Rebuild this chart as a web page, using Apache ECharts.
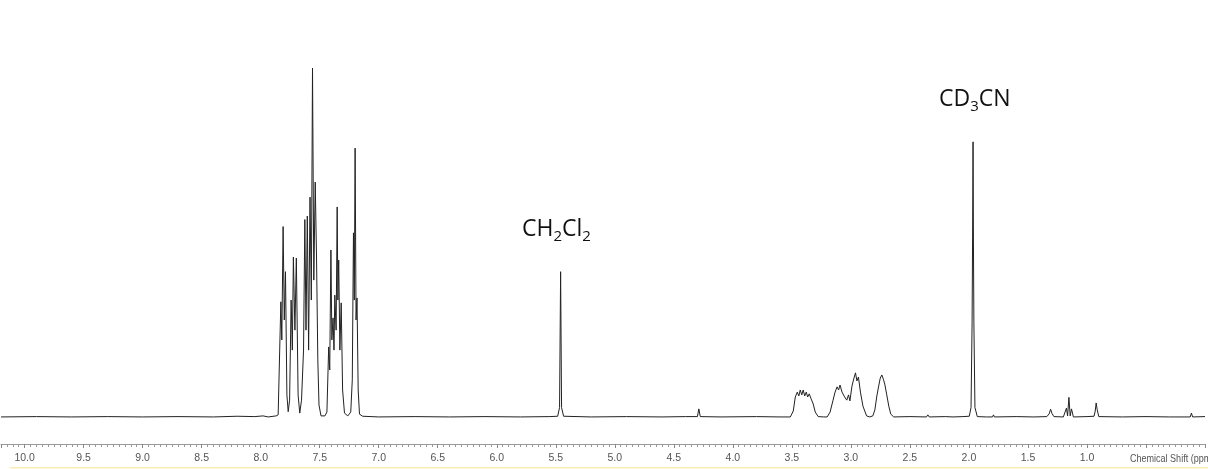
<!DOCTYPE html>
<html>
<head>
<meta charset="utf-8">
<script src="https://cdn.jsdelivr.net/npm/echarts@6/dist/echarts.min.js"></script>
<style>
html,body{margin:0;padding:0;background:#fff;}
#chart{width:1208px;height:469px;}
</style>
</head>
<body>
<div id="chart"></div>
<script>
// Chemical shift (ppm) of each traced vertex of the spectrum
const shiftPpm = [
  10.20, 9.90, 9.60, 9.30, 9.00, 8.70, 8.40, 8.20, 8.05, 7.98, 7.936,
  7.869, 7.852, 7.839, 7.829, 7.821, 7.810, 7.800, 7.790, 7.778, 7.767,
  7.755, 7.742, 7.732, 7.723, 7.710, 7.698, 7.683, 7.669,
  7.654, 7.637, 7.626, 7.616, 7.605, 7.594, 7.582, 7.571, 7.561, 7.550, 7.538, 7.527, 7.516, 7.506,
  7.489, 7.456, 7.439,
  7.424, 7.415, 7.405, 7.397, 7.387, 7.379, 7.372, 7.361, 7.352, 7.346, 7.339, 7.329, 7.318, 7.306, 7.290,
  7.262, 7.237, 7.224, 7.214, 7.207, 7.200, 7.192, 7.184, 7.174, 7.163, 7.136,
  7.00, 6.70, 6.40, 6.10, 5.80, 5.55,
  5.484, 5.468, 5.459, 5.451, 5.434,
  5.20, 4.90, 4.60, 4.40, 4.30, 4.288, 4.276, 4.10, 3.80, 3.60,
  3.513, 3.488, 3.471, 3.454, 3.441, 3.429, 3.416, 3.404, 3.391, 3.378, 3.366, 3.353, 3.336, 3.319, 3.302, 3.277,
  3.23, 3.201, 3.176, 3.151, 3.134, 3.117, 3.104, 3.092, 3.075, 3.058, 3.035, 3.020, 3.008,
  2.991, 2.974, 2.961, 2.949, 2.936, 2.919, 2.898, 2.867, 2.839,
  2.814, 2.797, 2.780, 2.763, 2.751, 2.738, 2.725, 2.713, 2.696, 2.679, 2.662, 2.637,
  2.50, 2.36, 2.348, 2.336, 2.20, 2.135, 2.129, 2.123, 2.05,
  1.997, 1.982, 1.973, 1.969, 1.965, 1.962, 1.958, 1.949, 1.929,
  1.85, 1.80, 1.792, 1.784, 1.60, 1.45,
  1.34, 1.32, 1.308, 1.295, 1.28, 1.20,
  1.19, 1.174, 1.164, 1.153, 1.142, 1.131, 1.115,
  1.00, 0.94, 0.93, 0.922, 0.914, 0.90,
  0.70, 0.50, 0.30, 0.125, 0.115, 0.105, 0.00
];
// Intensity (tallest peak = 100) at each vertex above
const intensity = [
  0.3, 0.4, 0.3, 0.4, 0.3, 0.4, 0.3, 0.5, 0.4, 0.6, 0.3,
  0.6, 0.9, 19.4, 33.2, 22.3, 54.7, 28.0, 41.8, 6.6, 1.8,
  5.1, 33.7, 19.4, 46.0, 25.1, 45.7, 6.6, 1.4,
  5.1, 19.4, 56.7, 25.1, 57.7, 19.4, 63.1, 33.7, 100, 39.4, 67.4, 46.0, 16.6, 3.7,
  0.6, 0.6, 1.7,
  20.3, 13.7, 48.0, 22.3, 28.6, 19.4, 35.1, 25.1, 60.3, 33.7, 45.1, 19.4, 32.9, 8.0, 1.4,
  0.6, 1.7, 10.9, 52.9, 33.7, 77.1, 28.0, 34.3, 8.0, 1.1, 0.5,
  0.3, 0.4, 0.3, 0.4, 0.3, 0.4,
  0.5, 3.0, 41.8, 3.0, 0.5,
  0.3, 0.4, 0.3, 0.4, 0.4, 2.6, 0.4, 0.3, 0.4, 0.3,
  0.3, 2.0, 6.0, 7.4, 6.3, 8.0, 6.6, 8.0, 6.3, 7.4, 6.0, 6.9, 5.4, 4.0, 1.7, 0.4,
  0.3, 0.3, 1.7, 5.1, 7.4, 8.9, 8.0, 9.4, 7.4, 6.3, 5.1, 6.6, 4.9,
  9.1, 11.4, 12.9, 10.6, 11.7, 7.4, 3.4, 0.6, 0.3,
  0.6, 2.3, 6.3, 9.4, 11.4, 12.3, 11.1, 9.7, 6.6, 3.4, 1.1, 0.3,
  0.4, 0.3, 0.9, 0.3, 0.4, 0.3, 0.7, 0.3, 0.4,
  0.5, 3.0, 27.4, 51.7, 78.9, 51.7, 27.4, 3.0, 0.4,
  0.3, 0.3, 0.9, 0.3, 0.4, 0.3,
  0.4, 1.2, 2.5, 1.2, 0.4, 0.3,
  0.3, 2.8, 0.6, 5.9, 0.6, 2.6, 0.3,
  0.4, 0.5, 2.0, 4.3, 2.5, 0.4,
  0.3, 0.4, 0.3, 0.3, 1.4, 0.3, 0.4
];
const axisTitle = 'Chemical Shift (ppm)';
const solventLabels = [
  {parts: [['a', 'CH'], ['s', '2'], ['a', 'Cl'], ['s', '2']]},
  {parts: [['a', 'CD'], ['s', '3'], ['a', 'CN']]}
];

const data = shiftPpm.map((p, i) => [p, intensity[i]]);
const richText = lbl => lbl.parts.map(p => '{' + p[0] + '|' + p[1] + '}').join('');
const rich = {
  a: {fontFamily: 'Open Sans', fontSize: 23, lineHeight: 26, verticalAlign: 'top', fill: '#111'},
  s: {fontFamily: 'Open Sans', fontSize: 15, lineHeight: 10, verticalAlign: 'bottom', fill: '#111'}
};
const labelFont = "'Liberation Sans Narrow', 'Liberation Sans', Arial, sans-serif";

const chart = echarts.init(document.getElementById('chart'), null, {renderer: 'canvas'});
chart.setOption({
  animation: false,
  backgroundColor: '#fff',
  grid: {left: 1, top: 0, width: 1211, height: 444, containLabel: false},
  xAxis: {
    type: 'value',
    inverse: true,
    min: 0,
    max: 10.2,
    interval: 0.5,
    axisLine: {show: true, onZero: false, lineStyle: {color: '#9a9a9a', width: 1}},
    axisTick: {show: true, length: 4, lineStyle: {color: '#888'}},
    minorTick: {show: true, splitNumber: 10, length: 3, lineStyle: {color: '#999'}},
    splitLine: {show: false},
    minorSplitLine: {show: false},
    axisLabel: {
      margin: 9,
      fontSize: 10.5,
      fontFamily: labelFont,
      color: '#555',
      showMaxLabel: false,
      formatter: v => (v < 0.99 || Math.abs(v * 2 - Math.round(v * 2)) > 1e-6) ? '' : v.toFixed(1)
    }
  },
  yAxis: {
    type: 'value',
    show: false,
    min: -7.43,
    max: 119.43,
    splitLine: {show: false}
  },
  series: [{
    type: 'line',
    data: data,
    showSymbol: false,
    symbol: 'none',
    sampling: null,
    lineStyle: {color: '#222', width: 1},
    z: 3
  }],
  graphic: [
    {type: 'rect', shape: {x: 10, y: 467, width: 1198, height: 1.5}, style: {fill: '#fbeeb4'}, silent: true},
    {type: 'text', x: 1130, y: 453, scaleX: 0.82, style: {text: axisTitle, font: "11px " + labelFont, fill: '#555'}, silent: true},
    {type: 'text', x: 522, y: 218, style: {text: richText(solventLabels[0]), rich: rich, verticalAlign: 'top'}, silent: true},
    {type: 'text', x: 939, y: 88, style: {text: richText(solventLabels[1]), rich: rich, verticalAlign: 'top'}, silent: true}
  ]
});
</script>
</body>
</html>
